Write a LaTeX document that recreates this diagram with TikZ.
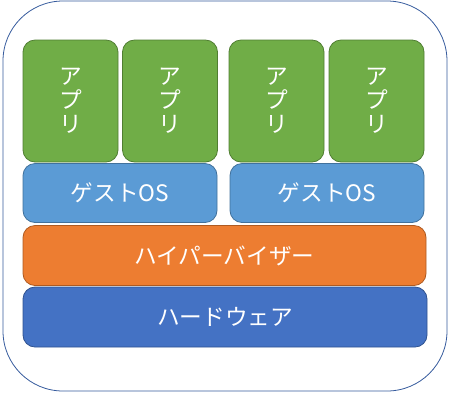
\documentclass[tikz,border=0pt]{standalone}
\usepackage{fontspec}
\setmainfont{Noto Sans CJK JP}
\definecolor{appfill}{HTML}{70AD47}
\definecolor{appline}{HTML}{507E32}
\definecolor{osfill}{HTML}{5B9BD5}
\definecolor{osline}{HTML}{41719C}
\definecolor{hvfill}{HTML}{ED7D31}
\definecolor{hvline}{HTML}{AE5A21}
\definecolor{hwfill}{HTML}{4472C4}
\definecolor{hwline}{HTML}{2F528F}
\tikzset{
  layer/.style={draw, rounded corners=9, line width=.6pt, text=white,
    font=\fontsize{17}{20}\selectfont, inner sep=0pt},
  appbox/.style={layer, fill=appfill, draw=appline, minimum width=71.25pt,
    minimum height=91.5pt, align=center, font=\fontsize{17}{18}\selectfont},
  osbox/.style={layer, fill=osfill, draw=osline, minimum width=145.5pt,
    minimum height=44.25pt},
}
\begin{document}
\begin{tikzpicture}[x=.75pt,y=-.75pt]
	\useasboundingbox (0,0) rectangle (453,405);
	% outer frame
	\draw[hwfill!80!black, line width=.6pt, rounded corners=45] (3,1) rectangle (447,391);

	% apps
	\node[appbox] (app1) at (70.5,101) {ア\\プ\\リ};
	\node[appbox] (app2) at (170,101) {ア\\プ\\リ};
	\node[appbox] (app3) at (276.5,101) {ア\\プ\\リ};
	\node[appbox] (app4) at (376.5,101) {ア\\プ\\リ};

	% guest os
	\node[osbox] (os1) at (120,193) {ゲストOS};
	\node[osbox] (os2) at (327,193) {ゲストOS};

	% hypervisor, hardware
	\node[layer, fill=hvfill, draw=hvline, minimum width=302.25pt,
		minimum height=45pt] (hv) at (224.5,255.5) {ハイパーバイザー};
	\node[layer, fill=hwfill, draw=hwline, minimum width=303pt,
		minimum height=45pt] (hw) at (225,317) {ハードウェア};
\end{tikzpicture}
\end{document}
